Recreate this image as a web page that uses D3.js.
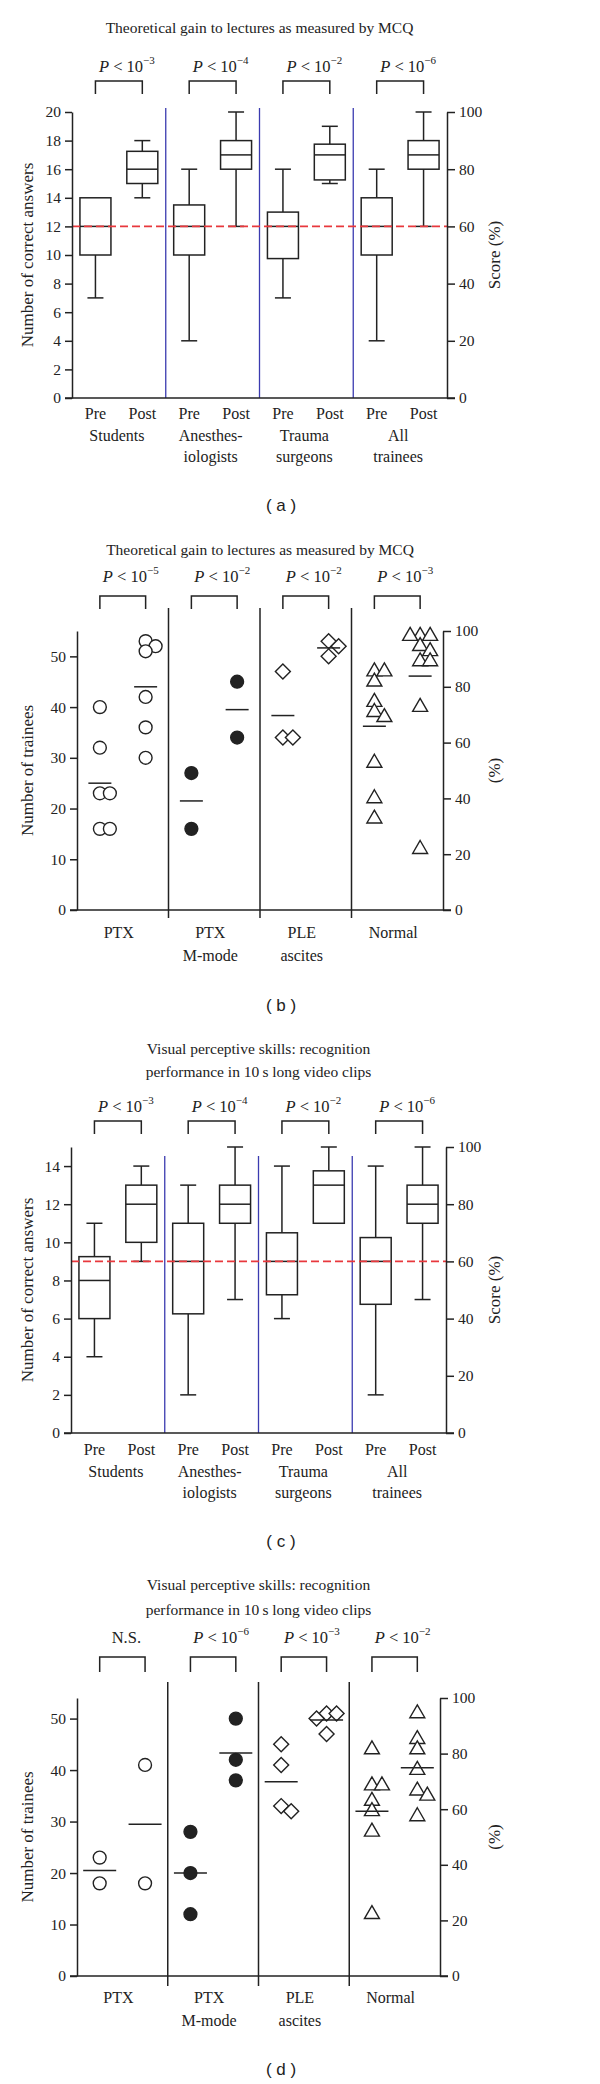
<!DOCTYPE html>
<html>
<head>
<meta charset="utf-8">
<script src="https://cdn.jsdelivr.net/npm/d3@7"></script>
<style>
  body { margin: 0; background: #fff; }
  svg text { font-family: "Liberation Serif", "Times New Roman", serif; fill: #222; }
  svg text.tag { font-family: "Liberation Sans", Arial, sans-serif; }
</style>
</head>
<body>
<svg id="fig" width="600" height="2084"></svg>
<script>
// ---- data ----
const phases = ["Pre", "Post"];
const traineeGroups = [["Students"], ["Anesthes-", "iologists"], ["Trauma", "surgeons"], ["All", "trainees"]];
const signGroups = [["PTX"], ["PTX", "M-mode"], ["PLE", "ascites"], ["Normal"]];

// box plots: [min, q1, median, q3, max]
const mcqPre  = [[7, 10, 12, 14, 14], [4, 10, 12, 13.5, 16], [7, 9.75, 12, 13, 16], [4, 10, 12, 14, 16]];
const mcqPost = [[14, 15, 16, 17.25, 18], [12, 16, 17, 18, 20], [15, 15.25, 17, 17.75, 19], [12, 16, 17, 18, 20]];
const mcqExp = ["3", "4", "2", "6"];
const mcqMax = 20, mcqPass = 12;
const mcqTicks = [0, 2, 4, 6, 8, 10, 12, 14, 16, 18, 20];

const clipPre  = [[4, 6, 8, 9.25, 11], [2, 6.25, 9, 11, 13], [6, 7.25, 9, 10.5, 14], [2, 6.75, 9, 10.25, 14]];
const clipPost = [[9, 10, 12, 13, 14], [7, 11, 12, 13, 15], [11, 11, 13, 13.75, 15], [7, 11, 12, 13, 15]];
const clipExp = ["3", "4", "2", "6"];
const clipMax = 15, clipPass = 9;
const clipTicks = [0, 2, 4, 6, 8, 10, 12, 14];

// number of trainees per ultrasound sign
const mcqSignPre  = [[40, 32, 23, 23, 16, 16], [27, 16], [47, 34, 34], [47, 47, 45, 41, 39, 38, 29, 22, 18]];
const mcqSignPost = [[53, 52, 51, 42, 36, 30], [45, 34], [53, 52, 50], [54, 54, 54, 52, 51, 49, 49, 40, 12]];
const mcqSignExp = ["5", "2", "2", "3"];
const mcqSignTotal = 55;

const clipSignPre  = [[23, 18], [28, 20, 12], [45, 41, 33, 32], [44, 37, 37, 34, 32, 28, 12]];
const clipSignPost = [[41, 18], [50, 42, 38], [51, 51, 50, 47], [51, 46, 44, 40, 36, 35, 31]];
const clipSignExp = [null, "6", "3", "2"];
const clipSignTotal = 54;

const signTicks = [0, 10, 20, 30, 40, 50];
const pctTicks = [0, 20, 40, 60, 80, 100];

// ---- drawing ----
const svg = d3.select("#fig");
const ink = "#222";

function pLabel(g, x, y, exp) {
  const t = g.append("text").attr("x", x).attr("y", y)
    .attr("text-anchor", "middle").style("font-size", "16.5px");
  if (exp == null) { t.attr("x", x - 4).text("N.S."); return; }
  t.append("tspan").style("font-style", "italic").text("P");
  t.append("tspan").text(" < 10");
  t.append("tspan").attr("dy", -8).style("font-size", "11px").text("\u2212" + exp);
}

function frame(g, cfg, y, yPct, leftTicks, leftTitle, rightTitle) {
  const left = g.append("g").attr("transform", `translate(${cfg.left},0)`)
    .call(d3.axisLeft(y).tickValues(leftTicks).tickSize(7).tickPadding(4).tickSizeOuter(0));
  const right = g.append("g").attr("transform", `translate(${cfg.right},0)`)
    .call(d3.axisRight(yPct).tickValues(pctTicks).tickSize(8).tickPadding(4).tickSizeOuter(0));
  [left, right].forEach(a => {
    a.selectAll("path, line").attr("stroke", ink).attr("stroke-width", 1.5);
    a.selectAll("text").style("font-size", "15.5px").attr("fill", ink)
      .style("font-family", '"Liberation Serif", serif');
  });
  g.append("line")
    .attr("x1", cfg.left - 7).attr("x2", cfg.right + 8)
    .attr("y1", cfg.bottom).attr("y2", cfg.bottom)
    .attr("stroke", ink).attr("stroke-width", 1.5);

  const midY = (cfg.top + cfg.bottom) / 2;
  g.append("text").attr("transform", `translate(27,${midY}) rotate(-90)`)
    .attr("text-anchor", "middle").attr("dy", "0.35em").style("font-size", "17px").text(leftTitle);
  g.append("text").attr("transform", `translate(494,${midY}) rotate(-90)`)
    .attr("text-anchor", "middle").attr("dy", "0.35em").style("font-size", "17px").text(rightTitle);
}

function titleAndTag(g, cfg) {
  cfg.title.forEach((line, i) => {
    g.append("text").attr("x", (cfg.left + cfg.right) / 2).attr("y", cfg.titleY[i])
      .attr("text-anchor", "middle").style("font-size", "15.5px").text(line);
  });
  g.append("text").attr("class", "tag").attr("x", 281).attr("y", cfg.tagY)
    .attr("text-anchor", "middle").style("font-size", "17px").text("( " + cfg.tag + " )");
}

function brackets(g, cfg, xGroup, xPhase, exps) {
  exps.forEach((exp, i) => {
    const x0 = xGroup(i) + xPhase("Pre") + xPhase.bandwidth() / 2;
    const x1 = xGroup(i) + xPhase("Post") + xPhase.bandwidth() / 2;
    g.append("path")
      .attr("d", `M${x0},${cfg.brBot}V${cfg.brTop}H${x1}V${cfg.brBot}`)
      .attr("fill", "none").attr("stroke", ink).attr("stroke-width", 1.5);
    pLabel(g, (x0 + x1) / 2 + 8, cfg.pY, exp);
  });
}

function drawBoxPanel(cfg) {
  const g = svg.append("g");
  const y = d3.scaleLinear().domain([0, cfg.max]).range([cfg.bottom, cfg.top]);
  const yPct = d3.scaleLinear().domain([0, 100]).range([cfg.bottom, cfg.top]);
  const xGroup = d3.scaleBand().domain(d3.range(cfg.groups.length)).range([cfg.left, cfg.right]);
  const xPhase = d3.scaleBand().domain(phases).range([0, xGroup.bandwidth()]);
  const boxW = 31, capW = 16;

  titleAndTag(g, cfg);
  brackets(g, cfg, xGroup, xPhase, cfg.exps);

  // blue group separators
  g.selectAll(".sep").data(d3.range(1, cfg.groups.length)).join("line")
    .attr("x1", d => xGroup(d)).attr("x2", d => xGroup(d))
    .attr("y1", cfg.sepTop).attr("y2", cfg.bottom)
    .attr("stroke", "#3b3bb0").attr("stroke-width", 1.3);

  const boxes = [];
  cfg.groups.forEach((_, i) => {
    boxes.push({ i, phase: "Pre", s: cfg.pre[i] });
    boxes.push({ i, phase: "Post", s: cfg.post[i] });
  });
  const bx = d => xGroup(d.i) + xPhase(d.phase) + xPhase.bandwidth() / 2;

  const bg = g.selectAll(".box").data(boxes).join("g")
    .attr("stroke", ink).attr("stroke-width", 1.5);
  bg.append("line").attr("x1", bx).attr("x2", bx)
    .attr("y1", d => y(d.s[0])).attr("y2", d => y(d.s[1]));
  bg.append("line").attr("x1", bx).attr("x2", bx)
    .attr("y1", d => y(d.s[3])).attr("y2", d => y(d.s[4]));
  bg.filter(d => d.s[0] < d.s[1]).append("line")
    .attr("x1", d => bx(d) - capW / 2).attr("x2", d => bx(d) + capW / 2)
    .attr("y1", d => y(d.s[0])).attr("y2", d => y(d.s[0]));
  bg.filter(d => d.s[4] > d.s[3]).append("line")
    .attr("x1", d => bx(d) - capW / 2).attr("x2", d => bx(d) + capW / 2)
    .attr("y1", d => y(d.s[4])).attr("y2", d => y(d.s[4]));
  bg.append("rect")
    .attr("x", d => bx(d) - boxW / 2).attr("width", boxW)
    .attr("y", d => y(d.s[3])).attr("height", d => y(d.s[1]) - y(d.s[3]))
    .attr("fill", "#fff");
  bg.append("line")
    .attr("x1", d => bx(d) - boxW / 2).attr("x2", d => bx(d) + boxW / 2)
    .attr("y1", d => y(d.s[2])).attr("y2", d => y(d.s[2]));

  // pass mark
  g.append("line")
    .attr("x1", cfg.left).attr("x2", cfg.right)
    .attr("y1", y(cfg.pass)).attr("y2", y(cfg.pass))
    .attr("stroke", "#e8383d").attr("stroke-width", 1.6).attr("stroke-dasharray", "8,4");

  frame(g, cfg, y, yPct, cfg.ticks, "Number of correct answers", "Score (%)");

  // category labels
  g.selectAll(".ph").data(boxes).join("text")
    .attr("x", bx).attr("y", cfg.phaseY).attr("text-anchor", "middle")
    .style("font-size", "16px").text(d => d.phase);
  cfg.groups.forEach((lines, i) => {
    lines.forEach((line, k) => {
      g.append("text").attr("x", xGroup(i) + xGroup.bandwidth() / 2 - 2)
        .attr("y", cfg.groupY + k * 21).attr("text-anchor", "middle")
        .style("font-size", "16px").text(line);
    });
  });
}

// simple dodge so that equal or close values sit side by side
function dodge(values, y, step, minDist) {
  const placed = [];
  return values.map(v => ({ v, py: y(v) }))
    .sort((a, b) => a.py - b.py)
    .map(p => {
      for (const k of [0, 1, -1, 2, -2, 3, -3]) {
        const dx = k * step;
        if (placed.every(q => Math.hypot(q.dx - dx, q.py - p.py) >= minDist)) {
          p.dx = dx; placed.push(p); return p;
        }
      }
      p.dx = 0; placed.push(p); return p;
    });
}

const markers = [
  { type: d3.symbolCircle, size: 130, fill: "#fff", rot: 0 },
  { type: d3.symbolCircle, size: 130, fill: ink, rot: 0 },
  { type: d3.symbolSquare, size: 112, fill: "#fff", rot: 45 },
  { type: d3.symbolTriangle, size: 97, fill: "#fff", rot: 0 }
];

function drawDotPanel(cfg) {
  const g = svg.append("g");
  const y = d3.scaleLinear().domain([0, cfg.total]).range([cfg.bottom, cfg.top]);
  const yPct = d3.scaleLinear().domain([0, 100]).range([cfg.bottom, cfg.top]);
  const xGroup = d3.scaleBand().domain(d3.range(cfg.groups.length)).range([cfg.left, cfg.right]);
  const xPhase = d3.scaleBand().domain(phases).range([0, xGroup.bandwidth()]);

  titleAndTag(g, cfg);
  brackets(g, cfg, xGroup, xPhase, cfg.exps);

  g.selectAll(".sep").data(d3.range(1, cfg.groups.length)).join("line")
    .attr("x1", d => xGroup(d)).attr("x2", d => xGroup(d))
    .attr("y1", cfg.sepTop).attr("y2", cfg.bottom + cfg.sepExt)
    .attr("stroke", ink).attr("stroke-width", 1.5);

  cfg.groups.forEach((_, i) => {
    const m = markers[i];
    phases.forEach(ph => {
      const vals = (ph === "Pre" ? cfg.pre : cfg.post)[i];
      const cx = xGroup(i) + xPhase(ph) + xPhase.bandwidth() / 2;
      const pts = dodge(vals, y, 10, 7);
      g.selectAll(null).data(pts).join("path")
        .attr("d", d3.symbol().type(m.type).size(m.size))
        .attr("transform", d => `translate(${cx + d.dx},${d.py}) rotate(${m.rot})`)
        .attr("fill", m.fill).attr("stroke", ink).attr("stroke-width", 1.4);
      const mean = d3.mean(vals);
      g.append("line")
        .attr("x1", cx - cfg.meanW / 2).attr("x2", cx + cfg.meanW / 2)
        .attr("y1", y(mean)).attr("y2", y(mean))
        .attr("stroke", ink).attr("stroke-width", 1.5);
    });
  });

  frame(g, cfg, y, yPct, signTicks, "Number of trainees", "(%)");

  cfg.groups.forEach((lines, i) => {
    lines.forEach((line, k) => {
      g.append("text").attr("x", xGroup(i) + xGroup.bandwidth() / 2 - 4)
        .attr("y", cfg.groupY + k * 23).attr("text-anchor", "middle")
        .style("font-size", "16px").text(line);
    });
  });
}

const mcqTitle = ["Theoretical gain to lectures as measured by MCQ"];
const clipTitle = ["Visual perceptive skills: recognition", "performance in 10\u2009s long video clips"];

drawBoxPanel({
  title: mcqTitle, titleY: [33], tag: "a", tagY: 511,
  groups: traineeGroups, pre: mcqPre, post: mcqPost, exps: mcqExp,
  max: mcqMax, pass: mcqPass, ticks: mcqTicks,
  left: 72, right: 447, top: 112, bottom: 398, sepTop: 108,
  pY: 72, brTop: 81, brBot: 94, phaseY: 419, groupY: 441
});

drawDotPanel({
  title: mcqTitle, titleY: [555], tag: "b", tagY: 1011,
  groups: signGroups, pre: mcqSignPre, post: mcqSignPost, exps: mcqSignExp,
  total: mcqSignTotal, meanW: 23,
  left: 77, right: 443, top: 631, bottom: 910, sepTop: 608, sepExt: 8,
  pY: 582, brTop: 596, brBot: 609, groupY: 938
});

drawBoxPanel({
  title: clipTitle, titleY: [1054, 1077], tag: "c", tagY: 1547,
  groups: traineeGroups, pre: clipPre, post: clipPost, exps: clipExp,
  max: clipMax, pass: clipPass, ticks: clipTicks,
  left: 71, right: 446, top: 1147, bottom: 1433, sepTop: 1156,
  pY: 1112, brTop: 1121, brBot: 1134, phaseY: 1455, groupY: 1477
});

drawDotPanel({
  title: clipTitle, titleY: [1590, 1615], tag: "d", tagY: 2075,
  groups: signGroups, pre: clipSignPre, post: clipSignPost, exps: clipSignExp,
  total: clipSignTotal, meanW: 33,
  left: 77, right: 440, top: 1698, bottom: 1976, sepTop: 1682, sepExt: 10,
  pY: 1643, brTop: 1657, brBot: 1672, groupY: 2003
});
</script>
</body>
</html>
